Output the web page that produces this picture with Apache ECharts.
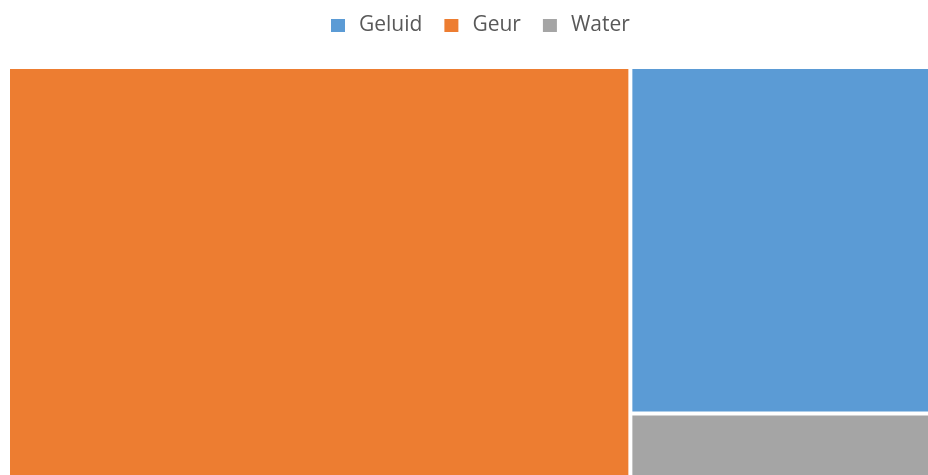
<!DOCTYPE html>
<html>
<head>
<meta charset="utf-8">
<script src="https://cdn.jsdelivr.net/npm/echarts@6/dist/echarts.min.js"></script>
<style>
  html, body { margin: 0; padding: 0; background: #fff; }
  #chart { width: 928px; height: 475px; }
</style>
</head>
<body>
<div id="chart"></div>
<script>
// categories in legend order
var categories = ['Geluid', 'Geur', 'Water'];
var values = [3, 7, 1];
var colors = ['#5B9BD5', '#ED7D31', '#A5A5A5'];

var treeData = categories.map(function (name, i) {
  return { name: name, value: values[i], itemStyle: { color: colors[i] } };
});

var chart = echarts.init(document.getElementById('chart'));
var option = {
  animation: false,
  textStyle: { fontFamily: 'Open Sans' },
  legend: {
    top: 15,
    left: 331,
    padding: 0,
    icon: 'rect',
    itemWidth: 14,
    itemHeight: 13,
    itemGap: 22,
    textStyle: {
      fontSize: 21,
      color: '#595959',
      fontFamily: 'Open Sans',
      padding: [0, 0, 0, 9]
    },
    data: categories
  },
  series: [
    {
      type: 'treemap',
      left: 10,
      top: 69,
      width: 974,
      height: 458,
      roam: false,
      nodeClick: false,
      breadcrumb: { show: false },
      label: { show: false },
      upperLabel: { show: false },
      itemStyle: { borderWidth: 0, gapWidth: 4, borderColor: '#fff' },
      data: treeData
    },
    {
      // legend source only, draws nothing
      type: 'pie',
      radius: [0, 0],
      silent: true,
      label: { show: false },
      data: categories.map(function (name, i) {
        return { name: name, value: values[i], itemStyle: { color: colors[i] } };
      })
    }
  ]
};
chart.setOption(option);
</script>
</body>
</html>
